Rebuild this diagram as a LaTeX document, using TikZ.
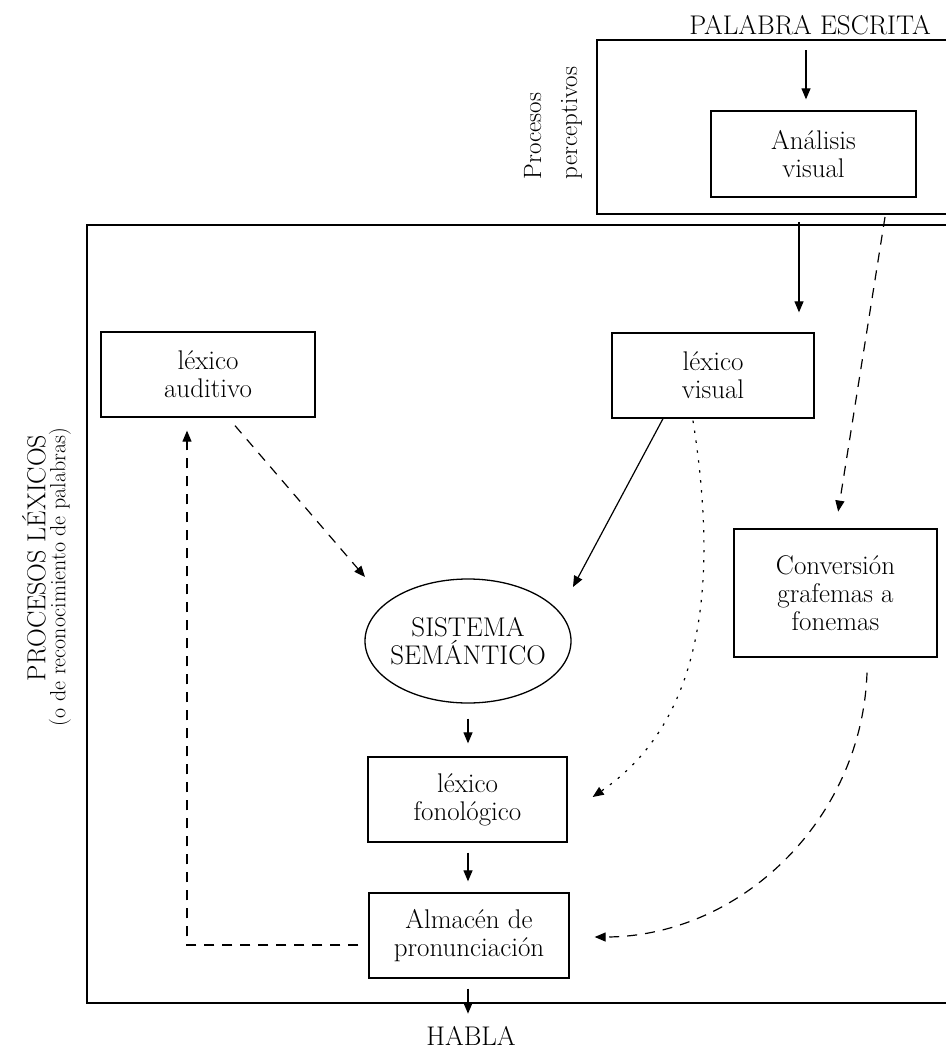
\documentclass[tikz,border=0pt]{standalone}
\usepackage{fontspec}
\usetikzlibrary{arrows.meta,shapes.geometric}
\begin{document}
\begin{tikzpicture}[x=1pt,y=-1pt,
  every node/.style={font=\fontsize{27}{28}\selectfont},
  box/.style={draw,line width=1.3pt,align=center,inner sep=0pt},
  lbl/.style={inner sep=0pt,align=center},
  side/.style={inner sep=0pt,rotate=90},
  arr/.style={line width=1.2pt,-{Triangle[length=11pt,width=9pt]}},
  dsh/.style={dash pattern=on 10pt off 8pt},
  dots/.style={dash pattern=on 2.4pt off 7.6pt},
  frame/.style={line width=1.3pt}]
\useasboundingbox (0,0) rectangle (945,1052);

% open frames (they run off the right edge)
\draw[frame] (950,40) -- (597,40) -- (597,214) -- (950,214);
\draw[frame] (950,225) -- (87,225) -- (87,1003) -- (950,1003);

% labels
\node[lbl] (palabra) at (810,25) {PALABRA ESCRITA};
\node[lbl] (habla) at (471,1036) {HABLA};
\node[side,align=left,font=\fontsize{25}{36}\selectfont] (percep) at (553,123) {Procesos\\perceptivos};
\node[side,font=\fontsize{26}{30}\selectfont] (lexicos) at (34,558) {PROCESOS LÉXICOS};
\node[side,font=\fontsize{22}{30}\selectfont] (reconoc) at (60,577) {(o de reconocimiento de palabras)};

% boxes
\node[box,minimum width=205pt,minimum height=86pt] (analisis) at (813.5,154) {Análisis\\visual};
\node[box,minimum width=214pt,minimum height=85pt] (lexaud) at (208,374.5) {léxico\\auditivo};
\node[box,minimum width=202pt,minimum height=85pt] (lexvis) at (713,375.5) {léxico\\visual};
\node[box,minimum width=203pt,minimum height=128pt] (conv) at (835.5,593) {Conversión\\grafemas a\\fonemas};
\node[box,ellipse,inner xsep=-10pt,inner ysep=0pt,minimum width=206pt,minimum height=124pt] (sem) at (468,641) {SISTEMA\\SEMÁNTICO};
\node[box,minimum width=199pt,minimum height=85pt] (lexfon) at (467.5,799.5) {léxico\\fonológico};
\node[box,minimum width=200pt,minimum height=85pt] (almacen) at (469,935.5) {Almacén de\\pronunciación};

% free ends of connectors
\coordinate (inword) at (806,50);
\coordinate (outvis) at (799,222);
\coordinate (outgraf) at (885,217);

% connectors
\draw[arr,shorten >=11pt] (inword) -- (inword |- analisis.north);
\draw[arr,shorten >=20pt] (outvis) -- (outvis |- lexvis.north);
\draw[arr,dsh,shorten >=17pt] (outgraf) -- (conv.north);
\draw[arr,dsh] ([xshift=27pt,yshift=-8pt]lexaud.south) -- ([shift={(-103pt,64pt)}]sem.center);
\draw[arr] ([xshift=-50pt]lexvis.south) -- ([shift={(105pt,54pt)}]sem.center);
\draw[arr,dots] ([xshift=-20pt,yshift=-2pt]lexvis.south)
  .. controls (718,580) and (705,720) .. ([xshift=25pt,yshift=2.5pt]lexfon.east);
\draw[arr,dsh] ([xshift=31.5pt,yshift=-15pt]conv.south)
  .. controls (862,820) and (740,937) .. ([xshift=25pt,yshift=-1.5pt]almacen.east);
\draw[arr,shorten <=15pt,shorten >=13pt] (sem.south) -- (sem.south |- lexfon.north);
\draw[arr,shorten <=10pt,shorten >=11pt] (sem.south |- lexfon.south) -- (sem.south |- almacen.north);
\draw[arr,shorten <=10pt] (sem.south |- almacen.south) -- ([yshift=-35pt]sem.south |- almacen.south);
\draw[arr,dsh] ([xshift=-10pt,yshift=-9.5pt]almacen.west) -| ([xshift=-21pt,yshift=-13pt]lexaud.south);
\end{tikzpicture}
\end{document}
